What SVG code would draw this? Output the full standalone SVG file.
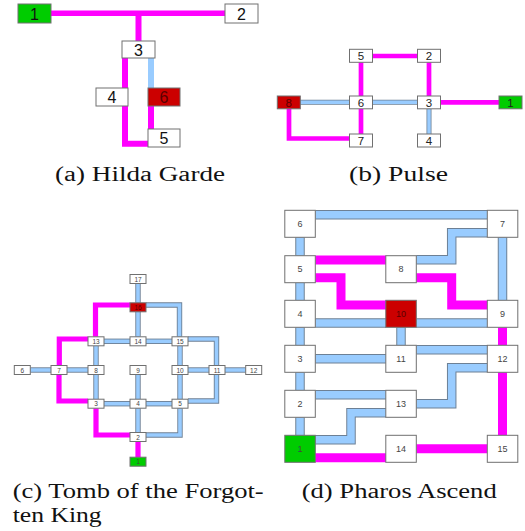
<svg xmlns="http://www.w3.org/2000/svg" xmlns:xlink="http://www.w3.org/1999/xlink" width="525" height="531" viewBox="0 0 525 531">
<style>
.bg{fill:#ffffff}
.mg{fill:none;stroke:#ff00ff;stroke-linejoin:miter;stroke-linecap:butt}
.bo{fill:none;stroke:#6d8095;stroke-linejoin:miter;stroke-linecap:butt}
.bi{fill:none;stroke:#99ccff;stroke-linejoin:miter;stroke-linecap:butt}
.n{fill:#ffffff;stroke:#707070;stroke-width:1}
.g{fill:#00cc00;stroke:#707070;stroke-width:1}
.r{fill:#cc0000;stroke:#707070;stroke-width:1}
.t{font-family:"Liberation Sans",Arial,sans-serif;text-anchor:middle;dominant-baseline:central;fill:#222}
.ta{font-size:16px;fill:#111}
.tb{font-size:11.5px;fill:#222}
.tc{font-size:6.5px;fill:#444}
.td{font-size:9px;fill:#444}
.tr{fill:#5a0000}
.cap{font-family:"Liberation Serif","Times New Roman",serif;font-size:20px;fill:#111}
</style>
<defs>
<g id="blueA"><path d="M151,58 V88"/></g>
<g id="blueB"><path d="M300,102.3 H349"/><path d="M372,102.3 H418"/><path d="M429,108.8 V134"/></g>
<g id="blueC">
<path d="M138,283.5 V302.8"/><path d="M138,311.8 V336.8"/><path d="M146,305 H179.5 V336.8"/>
<path d="M104,341.3 H130"/><path d="M146,341.3 H172"/><path d="M188,339 H216.5 V365.5"/>
<path d="M30.3,370 H51"/><path d="M67,370 H88"/><path d="M188,370 H209"/><path d="M225,370 H245.7"/>
<path d="M96,345.8 V365.5"/><path d="M96,374.5 V399.2"/><path d="M138,374.5 V399.2"/>
<path d="M180,345.8 V365.5"/><path d="M180,374.5 V399.2"/><path d="M216.5,374.5 V401 H188"/>
<path d="M104,403.7 H130"/><path d="M146,403.7 H172"/><path d="M138,408.2 V432.5"/><path d="M180,408.2 V435 H146"/>
</g>
<g id="blueD">
<path d="M315.3,214.7 H487.3"/><path d="M300,237.3 V255.7"/><path d="M487.3,232.8 H451.7 V259.7 H416.3"/>
<path d="M502.5,237.3 V300.3"/><path d="M300,282.7 V300.3"/><path d="M315.3,323 H386"/><path d="M416.3,323 H487.3"/>
<path d="M300,327.3 V345.3"/><path d="M401,327.3 V345.3"/><path d="M315.3,358.8 H386"/><path d="M416.3,349.8 H487.3"/>
<path d="M487.3,367.8 H451.7 V403.8 H416.3"/><path d="M300,372.3 V390.3"/><path d="M315.3,394.8 H386"/>
<path d="M386,412.8 H351 V439.8 H315.3"/><path d="M300,417.3 V435.3"/>
</g>
</defs>
<rect class="bg" x="0" y="0" width="525" height="531"/>

<g id="connectors">
<g id="connectors-a">
<use xlink:href="#blueA" class="bi" stroke-width="6"/>
<path class="mg" stroke-width="5.5" d="M51,13.3 H225"/>
<path class="mg" stroke-width="6" d="M138.5,13.3 V41"/>
<path class="mg" stroke-width="6" d="M125,58 V143.7 H148"/>
<path class="mg" stroke-width="6" d="M151,106 V129"/>
</g>
<g id="connectors-b">
<use xlink:href="#blueB" class="bo" stroke-width="5"/>
<use xlink:href="#blueB" class="bi" stroke-width="3.4"/>
<path class="mg" stroke-width="4.7" d="M372,56 H418"/>
<path class="mg" stroke-width="4.7" d="M361,62.3 V96"/>
<path class="mg" stroke-width="4.7" d="M429,62.3 V96"/>
<path class="mg" stroke-width="4.7" d="M441,102.3 H499"/>
<path class="mg" stroke-width="4.7" d="M361,108.8 V134"/>
<path class="mg" stroke-width="4.7" d="M289,108.8 V138.5 H349"/>
</g>
<g id="connectors-c">
<use xlink:href="#blueC" class="bo" stroke-width="5.4"/>
<use xlink:href="#blueC" class="bi" stroke-width="3.6"/>
<path class="mg" stroke-width="5.2" d="M130,305 H95.5 V336.8"/>
<path class="mg" stroke-width="5.2" d="M88,339 H59.3 V365.5"/>
<path class="mg" stroke-width="5.2" d="M59,374.5 V401 H88"/>
<path class="mg" stroke-width="5.2" d="M96,408.2 V435 H130"/>
<path class="mg" stroke-width="5.2" d="M138,441.5 V457.2"/>
</g>
<g id="connectors-d">
<use xlink:href="#blueD" class="bo" stroke-width="9.5"/>
<use xlink:href="#blueD" class="bi" stroke-width="7.5"/>
<path class="mg" stroke-width="9" d="M315.3,260 H386"/>
<path class="mg" stroke-width="9" d="M315.3,277.7 H341 V305 H386"/>
<path class="mg" stroke-width="9" d="M416.3,277.7 H451.7 V305 H487.3"/>
<path class="mg" stroke-width="9" d="M502.5,327.3 V345.3"/>
<path class="mg" stroke-width="9" d="M502.5,372.3 V435.3"/>
<path class="mg" stroke-width="9" d="M416.3,448.8 H487.3"/>
<path class="mg" stroke-width="9" d="M315.3,457.8 H386"/>
</g>
</g>

<g id="nodes-a">
<g id="a1"><rect class="g" x="18" y="4" width="33" height="19"/><text class="t ta" x="34.5" y="14">1</text></g>
<g id="a2"><rect class="n" x="225" y="4" width="33" height="19"/><text class="t ta" x="241.5" y="14">2</text></g>
<g id="a3"><rect class="n" x="122" y="41" width="33" height="17"/><text class="t ta" x="138.5" y="50">3</text></g>
<g id="a4"><rect class="n" x="96" y="88" width="32" height="18"/><text class="t ta" x="112" y="97.5">4</text></g>
<g id="a6"><rect class="r" x="148" y="88" width="32" height="18"/><text class="t ta tr" x="164" y="97.5">6</text></g>
<g id="a5"><rect class="n" x="148" y="129" width="32" height="18"/><text class="t ta" x="164" y="138.5">5</text></g>
</g>

<g id="nodes-b">
<g id="b5"><rect class="n" x="349.5" y="49.3" width="23" height="13"/><text class="t tb" x="361" y="56.3">5</text></g>
<g id="b2"><rect class="n" x="417.5" y="49.3" width="23" height="13"/><text class="t tb" x="429" y="56.3">2</text></g>
<g id="b8"><rect class="r" x="277.3" y="96" width="23" height="12.8"/><text class="t tb tr" x="288.8" y="102.8">8</text></g>
<g id="b6"><rect class="n" x="349.5" y="96" width="23" height="12.8"/><text class="t tb" x="361" y="102.8">6</text></g>
<g id="b3"><rect class="n" x="417.5" y="96" width="23" height="12.8"/><text class="t tb" x="429" y="102.8">3</text></g>
<g id="b1"><rect class="g" x="499" y="96" width="23" height="12.8"/><text class="t tb" x="510.5" y="102.8">1</text></g>
<g id="b7"><rect class="n" x="349.5" y="134" width="23" height="13"/><text class="t tb" x="361" y="141">7</text></g>
<g id="b4"><rect class="n" x="417.5" y="134" width="23" height="13"/><text class="t tb" x="429" y="141">4</text></g>
</g>

<g id="nodes-c">
<g id="c17"><rect class="n" x="130" y="274.5" width="16" height="9"/><text class="t tc" x="138" y="279.2">17</text></g>
<g id="c16"><rect class="r" x="130" y="302.8" width="16" height="9"/><text class="t tc tr" x="138" y="307.5">16</text></g>
<g id="c13"><rect class="n" x="88" y="336.8" width="16" height="9"/><text class="t tc" x="96" y="341.5">13</text></g>
<g id="c14"><rect class="n" x="130" y="336.8" width="16" height="9"/><text class="t tc" x="138" y="341.5">14</text></g>
<g id="c15"><rect class="n" x="172" y="336.8" width="16" height="9"/><text class="t tc" x="180" y="341.5">15</text></g>
<g id="c6"><rect class="n" x="14.3" y="365.5" width="16" height="9"/><text class="t tc" x="22.3" y="370.2">6</text></g>
<g id="c7"><rect class="n" x="51" y="365.5" width="16" height="9"/><text class="t tc" x="59" y="370.2">7</text></g>
<g id="c8"><rect class="n" x="88" y="365.5" width="16" height="9"/><text class="t tc" x="96" y="370.2">8</text></g>
<g id="c9"><rect class="n" x="130" y="365.5" width="16" height="9"/><text class="t tc" x="138" y="370.2">9</text></g>
<g id="c10"><rect class="n" x="172" y="365.5" width="16" height="9"/><text class="t tc" x="180" y="370.2">10</text></g>
<g id="c11"><rect class="n" x="209" y="365.5" width="16" height="9"/><text class="t tc" x="217" y="370.2">11</text></g>
<g id="c12"><rect class="n" x="245.7" y="365.5" width="16" height="9"/><text class="t tc" x="253.7" y="370.2">12</text></g>
<g id="c3"><rect class="n" x="88" y="399.2" width="16" height="9"/><text class="t tc" x="96" y="403.9">3</text></g>
<g id="c4"><rect class="n" x="130" y="399.2" width="16" height="9"/><text class="t tc" x="138" y="403.9">4</text></g>
<g id="c5"><rect class="n" x="172" y="399.2" width="16" height="9"/><text class="t tc" x="180" y="403.9">5</text></g>
<g id="c2"><rect class="n" x="130" y="432.5" width="16" height="9"/><text class="t tc" x="138" y="437.2">2</text></g>
<g id="c1"><rect class="g" x="130" y="457.2" width="16" height="9"/><text class="t tc" x="138" y="461.9">1</text></g>
</g>

<g id="nodes-d">
<g id="d6"><rect class="n" x="284.8" y="210.3" width="30.5" height="27"/><text class="t td" x="300" y="224">6</text></g>
<g id="d7"><rect class="n" x="487.3" y="210.3" width="30.5" height="27"/><text class="t td" x="502.5" y="224">7</text></g>
<g id="d5"><rect class="n" x="284.8" y="255.7" width="30.5" height="27"/><text class="t td" x="300" y="269.4">5</text></g>
<g id="d8"><rect class="n" x="385.8" y="255.7" width="30.5" height="27"/><text class="t td" x="401" y="269.4">8</text></g>
<g id="d4"><rect class="n" x="284.8" y="300.3" width="30.5" height="27"/><text class="t td" x="300" y="314">4</text></g>
<g id="d10"><rect class="r" x="385.8" y="300.3" width="30.5" height="27"/><text class="t td tr" x="401" y="314">10</text></g>
<g id="d9"><rect class="n" x="487.3" y="300.3" width="30.5" height="27"/><text class="t td" x="502.5" y="314">9</text></g>
<g id="d3"><rect class="n" x="284.8" y="345.3" width="30.5" height="27"/><text class="t td" x="300" y="359">3</text></g>
<g id="d11"><rect class="n" x="385.8" y="345.3" width="30.5" height="27"/><text class="t td" x="401" y="359">11</text></g>
<g id="d12"><rect class="n" x="487.3" y="345.3" width="30.5" height="27"/><text class="t td" x="502.5" y="359">12</text></g>
<g id="d2"><rect class="n" x="284.8" y="390.3" width="30.5" height="27"/><text class="t td" x="300" y="404">2</text></g>
<g id="d13"><rect class="n" x="385.8" y="390.3" width="30.5" height="27"/><text class="t td" x="401" y="404">13</text></g>
<g id="d1"><rect class="g" x="284.8" y="435.3" width="30.5" height="27"/><text class="t td" x="300" y="449">1</text></g>
<g id="d14"><rect class="n" x="385.8" y="435.3" width="30.5" height="27"/><text class="t td" x="401" y="449">14</text></g>
<g id="d15"><rect class="n" x="487.3" y="435.3" width="30.5" height="27"/><text class="t td" x="502.5" y="449">15</text></g>
</g>

<g id="captions">
<text class="cap" x="55" y="181" textLength="170" lengthAdjust="spacingAndGlyphs">(a) Hilda Garde</text>
<text class="cap" x="349" y="181" textLength="99" lengthAdjust="spacingAndGlyphs">(b) Pulse</text>
<text class="cap" x="12.7" y="498" textLength="251" lengthAdjust="spacingAndGlyphs">(c) Tomb of the Forgot-</text>
<text class="cap" x="12.7" y="522" textLength="89" lengthAdjust="spacingAndGlyphs">ten King</text>
<text class="cap" x="301.7" y="498" textLength="195" lengthAdjust="spacingAndGlyphs">(d) Pharos Ascend</text>
</g>
</svg>
